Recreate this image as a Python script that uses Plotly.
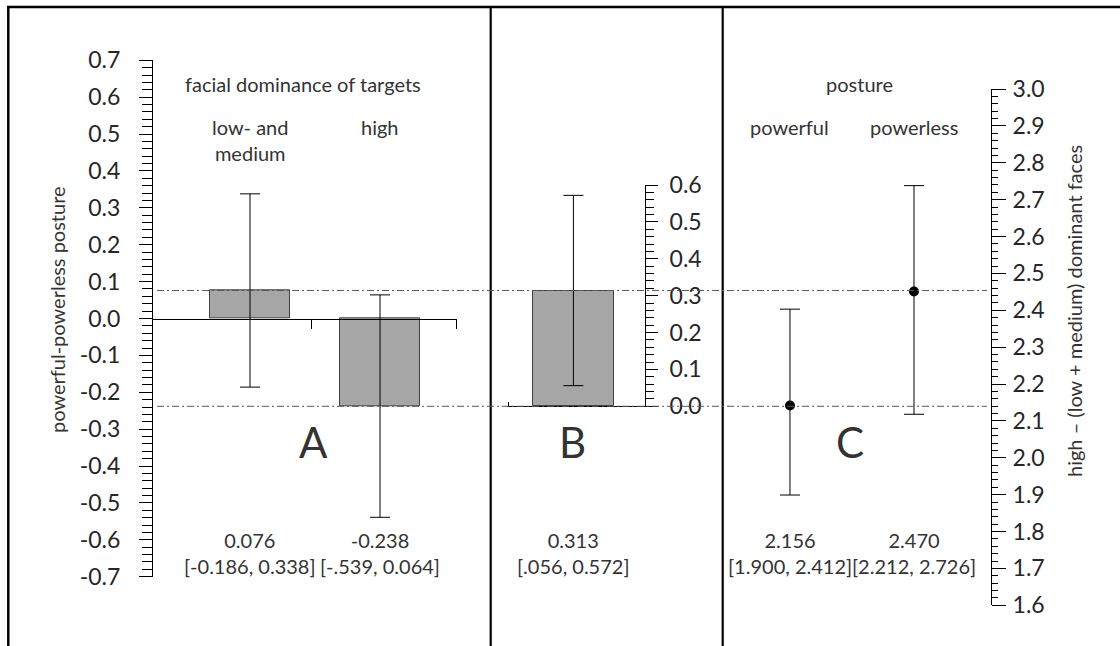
import plotly.graph_objects as go

W, H = 1120, 646

# ---------------- data ----------------
# Panel A: posture effect by facial dominance of targets
cats_A = ["low- and<br>medium", "high"]
mean_A = [0.076, -0.238]
lo_A = [-0.186, -0.539]
hi_A = [0.338, 0.064]
lab_A = ["0.076<br>[-0.186, 0.338]", "-0.238<br>[-.539, 0.064]"]

# Panel B: difference
mean_B = [0.313]
lo_B = [0.056]
hi_B = [0.572]
lab_B = ["0.313<br>[.056, 0.572]"]

# Panel C: high - (low + medium) by posture (positions as drawn)
cats_C = ["powerful", "powerless"]
mean_C = [2.142, 2.451]
lo_C = [1.899, 2.118]
hi_C = [2.403, 2.738]
lab_C = ["2.156<br>[1.900, 2.412]", "2.470<br>[2.212, 2.726]"]

ticks_A = [-0.7, -0.6, -0.5, -0.4, -0.3, -0.2, -0.1, 0.0, 0.1, 0.2, 0.3, 0.4, 0.5, 0.6, 0.7]
ticks_B = [0.0, 0.1, 0.2, 0.3, 0.4, 0.5, 0.6]
ticks_C = [1.6, 1.7, 1.8, 1.9, 2.0, 2.1, 2.2, 2.3, 2.4, 2.5, 2.6, 2.7, 2.8, 2.9, 3.0]

title_A = "facial dominance of targets"
title_C = "posture"
ytitle_A = "powerful-powerless posture"
ytitle_C = "high \u2013 (low + medium) dominant faces"

# ---------------- helpers ----------------
def fx(p):
    return p / W

def fy(p):
    return 1 - p / H

FONT = "Lato, 'Open Sans', sans-serif"
TXT = "#333333"
BAR_FILL = "#A6A6A6"
BAR_LINE = "#404040"

def err(m, lo, hi):
    return dict(type="data", symmetric=False,
                array=[h - v for v, h in zip(m, hi)],
                arrayminus=[v - l for v, l in zip(m, lo)],
                color="black", thickness=1, width=10)

fig = go.Figure()

fig.add_trace(go.Bar(
    x=list(range(len(cats_A))), y=mean_A, width=0.62,
    marker=dict(color=BAR_FILL, line=dict(color=BAR_LINE, width=1)),
    error_y=err(mean_A, lo_A, hi_A), xaxis="x", yaxis="y", showlegend=False))

fig.add_trace(go.Bar(
    x=[0], y=mean_B, width=0.62,
    marker=dict(color=BAR_FILL, line=dict(color=BAR_LINE, width=1)),
    error_y=err(mean_B, lo_B, hi_B), xaxis="x2", yaxis="y3", showlegend=False))

fig.add_trace(go.Scatter(
    x=list(range(len(cats_C))), y=mean_C, mode="markers",
    marker=dict(color="black", size=10),
    error_y=err(mean_C, lo_C, hi_C), xaxis="x3", yaxis="y5", showlegend=False))

# ---------------- axes ----------------
yA_dom = [fy(576.7), fy(60.3)]
yA_rng = [-0.7, 0.7]
zero_pos = yA_dom[0] + (0 - yA_rng[0]) / (yA_rng[1] - yA_rng[0]) * (yA_dom[1] - yA_dom[0])

tickfont = dict(family=FONT, size=23, color="#262626")
common_y = dict(showgrid=False, zeroline=False, showline=True, linecolor="black",
                linewidth=1, tickcolor="black", tickwidth=1, tickfont=tickfont,
                automargin=False)
plain = dict(showticklabels=False, showline=False, showgrid=False, zeroline=False,
             automargin=False, tickcolor="black")

def minor(len_, side="outside"):
    return dict(tickmode="linear", tick0=0, dtick=0.02, ticks=side, ticklen=len_,
                tickcolor="black", tickwidth=1, showgrid=False)

def fmt(vals):
    return ["%.1f" % v for v in vals]

fig.update_layout(
    xaxis=dict(domain=[fx(153), fx(457)], range=[-0.746, 1.592], anchor="free",
               position=zero_pos, showline=True, linecolor="black", linewidth=1,
               ticks="outside", ticklen=9, tickcolor="black", tickvals=[0.47, 1.588],
               showticklabels=False, showgrid=False, zeroline=False, automargin=False),
    yaxis=dict(domain=yA_dom, range=yA_rng, anchor="x", side="left",
               ticks="outside", ticklen=13, tickvals=ticks_A, ticktext=fmt(ticks_A),
               minor=minor(10), ticklabelstandoff=14, **common_y),
    yaxis2=dict(overlaying="y", anchor="x", side="left", range=yA_rng,
                ticks="inside", ticklen=5, tickvals=ticks_A, **plain),

    xaxis2=dict(domain=[fx(507), fx(645)], range=[-0.51, 0.55], anchor="y3",
                showline=True, linecolor="black", linewidth=1, ticks="inside",
                ticklen=4, tickcolor="black", tickvals=[-0.5], showticklabels=False,
                showgrid=False, zeroline=False, automargin=False),
    yaxis3=dict(domain=[fy(406.3), fy(185)], range=[0, 0.6], anchor="x2", side="right",
                ticks="outside", ticklen=12, tickvals=ticks_B, ticktext=fmt(ticks_B),
                minor=minor(8), ticklabelstandoff=7, **common_y),
    yaxis4=dict(overlaying="y3", anchor="x2", side="right", range=[0, 0.6],
                ticks="inside", ticklen=6, tickvals=ticks_B, **plain),

    xaxis3=dict(domain=[fx(723), fx(991)], range=[-0.54, 1.621], anchor="y5",
                visible=False, automargin=False),
    yaxis5=dict(domain=[fy(605.3), fy(89)], range=[1.6, 3.0], anchor="x3", side="right",
                ticks="outside", ticklen=14, tickvals=ticks_C, ticktext=fmt(ticks_C),
                minor=minor(6), ticklabelstandoff=2, **common_y),
    yaxis6=dict(overlaying="y5", anchor="x3", side="right", range=[1.6, 3.0],
                ticks="inside", ticklen=4, tickvals=ticks_C, **plain),
)

# ---------------- text ----------------
ann = []
def text(t, x, y, xref="paper", size=20, **kw):
    d = dict(text=t, x=x, y=y, xref=xref, yref="paper", showarrow=False,
             font=dict(family=FONT, size=size, color=TXT), xanchor="center")
    d.update(kw)
    ann.append(d)

text(title_A, fx(303), fy(84), yanchor="middle")
text(title_C, fx(859), fy(84), yanchor="middle")
for i, c in enumerate(cats_A):
    text(c, i, fy(113), xref="x", yanchor="top")
for i, c in enumerate(cats_C):
    text(c, i, fy(113), xref="x3", yanchor="top")
for i, t in enumerate(lab_A):
    text(t, i, fy(526), xref="x", yanchor="top")
for i, t in enumerate(lab_B):
    text(t, i, fy(526), xref="x2", yanchor="top")
for i, t in enumerate(lab_C):
    text(t, i, fy(526), xref="x3", yanchor="top")
text("A", fx(313), fy(442), size=42, yanchor="middle")
text("B", fx(572), fy(442), size=42, yanchor="middle")
text("C", fx(850), fy(442), size=42, yanchor="middle")
text(ytitle_A, fx(57), fy(310), textangle=-90, yanchor="middle")
text(ytitle_C, fx(1074), fy(311), textangle=-90, yanchor="middle")

# ---------------- shapes ----------------
shapes = []
frame = dict(color="black", width=2.5)
shapes.append(dict(type="line", xref="paper", yref="paper", x0=fx(7), x1=1,
                   y0=fy(7), y1=fy(7), line=frame))
shapes.append(dict(type="line", xref="paper", yref="paper", x0=fx(8.3), x1=fx(8.3),
                   y0=fy(7), y1=0, line=frame))
for xp in (490.7, 722.7):
    shapes.append(dict(type="line", xref="paper", yref="paper", x0=fx(xp), x1=fx(xp),
                       y0=fy(7), y1=0, line=dict(color="black", width=2.2)))
for v in mean_A:
    shapes.append(dict(type="line", xref="paper", yref="y", x0=fx(157), x1=fx(987),
                       y0=v, y1=v, line=dict(color="#595959", width=1,
                                             dash="7px,3px,2px,3px")))

fig.update_layout(
    width=W, height=H, autosize=False,
    margin=dict(l=0, r=0, t=0, b=0, pad=0, autoexpand=False),
    paper_bgcolor="white", plot_bgcolor="rgba(0,0,0,0)",
    font=dict(family=FONT, color=TXT),
    showlegend=False, bargap=0,
    annotations=ann, shapes=shapes,
)

fig.write_html("out.html")
